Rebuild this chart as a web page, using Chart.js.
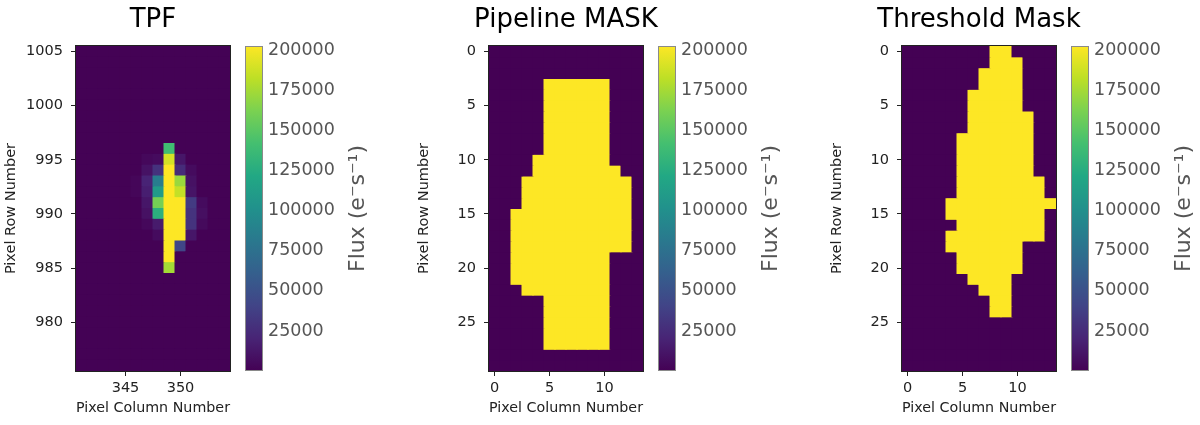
<!DOCTYPE html>
<html>
<head>
<meta charset="utf-8">
<script src="https://cdn.jsdelivr.net/npm/chart.js@4.4.1/dist/chart.umd.min.js"></script>
<style>
  body { margin: 0; background: #fff; }
  #figure { position: relative; width: 1200px; height: 425px; overflow: hidden; }
  #figure canvas { position: absolute; top: 0; }
</style>
</head>
<body>
<div id="figure"></div>
<script>
// ---- data ----
const TPF_COLUMNS = [341, 342, 343, 344, 345, 346, 347, 348, 349, 350, 351, 352, 353, 354];
const TPF_ROWS = [976, 977, 978, 979, 980, 981, 982, 983, 984, 985, 986, 987, 988, 989, 990,
  991, 992, 993, 994, 995, 996, 997, 998, 999, 1000, 1001, 1002, 1003, 1004, 1005];
const TPF_X_TICKS = [345, 350];
const TPF_Y_TICKS = [980, 985, 990, 995, 1000, 1005];

// flux of the background pixels, and of the bright ones: [column, row, flux]
const TPF_BACKGROUND = 500;
const TPF_PIXELS = [
  [346, 993, 3000], [346, 992, 3000],
  [347, 995, 4000], [347, 994, 10000], [347, 993, 20000], [347, 992, 17000],
  [347, 991, 12000], [347, 990, 9000], [347, 989, 4000],
  [348, 995, 6000], [348, 994, 29000], [348, 993, 85000], [348, 992, 110000],
  [348, 991, 160000], [348, 990, 128000], [348, 989, 15000], [348, 988, 6000],
  [349, 996, 140000], [349, 995, 190000], [349, 994, 240000], [349, 993, 240000],
  [349, 992, 240000], [349, 991, 240000], [349, 990, 240000], [349, 989, 240000],
  [349, 988, 240000], [349, 987, 240000], [349, 986, 240000], [349, 985, 175000],
  [350, 995, 12000], [350, 994, 25000], [350, 993, 172000], [350, 992, 185000],
  [350, 991, 240000], [350, 990, 240000], [350, 989, 240000], [350, 988, 240000],
  [350, 987, 42000],
  [351, 994, 6000], [351, 993, 9000], [351, 992, 11000], [351, 991, 35000],
  [351, 990, 30000], [351, 989, 30000], [351, 988, 12000],
  [352, 991, 6000], [352, 990, 8000], [352, 989, 5000],
];

const MASK_COLUMNS = [0, 1, 2, 3, 4, 5, 6, 7, 8, 9, 10, 11, 12, 13];
const MASK_ROWS = [0, 1, 2, 3, 4, 5, 6, 7, 8, 9, 10, 11, 12, 13, 14,
  15, 16, 17, 18, 19, 20, 21, 22, 23, 24, 25, 26, 27, 28, 29];
const MASK_X_TICKS = [0, 5, 10];
const MASK_Y_TICKS = [0, 5, 10, 15, 20, 25];

// mask pixels as [column, first row, last row]
const PIPELINE_MASK = [
  [2, 15, 21], [3, 12, 22], [4, 10, 22], [5, 3, 27], [6, 3, 27], [7, 3, 27],
  [8, 3, 27], [9, 3, 27], [10, 3, 27], [11, 11, 18], [12, 12, 18],
];
const THRESHOLD_MASK = [
  [4, 14, 15], [4, 17, 18], [5, 8, 20], [6, 4, 21], [7, 2, 22], [8, 0, 24],
  [9, 0, 24], [10, 1, 20], [11, 6, 17], [12, 12, 17], [13, 14, 14],
];

const FLUX_MIN = 0;
const FLUX_MAX = 203000;
const CBAR_TICKS = [25000, 50000, 75000, 100000, 125000, 150000, 175000, 200000];
const FLUX_LABEL = "Flux (e\u207Bs\u207B\u00B9)";

// ---- colours ----
const VIRIDIS = ["#440154", "#482475", "#414487", "#355f8d", "#2a788e", "#21918c",
  "#22a884", "#44bf70", "#7ad151", "#bddf26", "#fde725"];

function hexToRgb(h) {
  return [1, 3, 5].map((i) => parseInt(h.slice(i, i + 2), 16));
}

function viridis(t) {
  t = Math.min(1, Math.max(0, t));
  const pos = t * (VIRIDIS.length - 1);
  const i = Math.min(VIRIDIS.length - 2, Math.floor(pos));
  const f = pos - i;
  const a = hexToRgb(VIRIDIS[i]);
  const b = hexToRgb(VIRIDIS[i + 1]);
  const c = a.map((v, k) => Math.round(v + (b[k] - v) * f));
  return `rgb(${c[0]}, ${c[1]}, ${c[2]})`;
}

function fluxToColor(v) {
  return viridis((v - FLUX_MIN) / (FLUX_MAX - FLUX_MIN));
}

function tpfFlux(col, row) {
  const p = TPF_PIXELS.find((q) => q[0] === col && q[1] === row);
  return p ? p[2] : TPF_BACKGROUND;
}

function maskFlux(mask) {
  return (col, row) =>
    mask.some(([c, a, b]) => c === col && row >= a && row <= b) ? FLUX_MAX : FLUX_MIN;
}

// ---- plugins ----
const framePlugin = {
  id: "frame",
  afterDatasetsDraw(chart) {
    const { ctx, chartArea: a } = chart;
    ctx.save();
    ctx.strokeStyle = "#222";
    ctx.lineWidth = 1;
    ctx.strokeRect(a.left - 0.5, a.top - 0.5, a.width + 1, a.height + 1);
    ctx.restore();
  },
};

const fluxLabelPlugin = {
  id: "fluxLabel",
  afterDraw(chart, args, opts) {
    const { ctx, chartArea: a } = chart;
    ctx.save();
    ctx.translate(a.right + opts.offset, (a.top + a.bottom) / 2);
    ctx.rotate(-Math.PI / 2);
    ctx.fillStyle = "#555";
    ctx.font = "22px 'DejaVu Sans', sans-serif";
    ctx.textAlign = "center";
    ctx.textBaseline = "middle";
    ctx.fillText(opts.text, 0, 0);
    ctx.restore();
  },
};

Chart.defaults.font.family = "'DejaVu Sans', sans-serif";

const figure = document.getElementById("figure");

function addCanvas(left, width) {
  const c = document.createElement("canvas");
  c.width = width;
  c.height = 425;
  c.style.left = left + "px";
  figure.appendChild(c);
  return c;
}

function heatmapDatasets(columns, rows, fluxAt) {
  return rows.map((row) => ({
    data: columns.map(() => [row - 0.5, row + 0.5]),
    backgroundColor: columns.map((col) => fluxToColor(fluxAt(col, row))),
    borderWidth: 0,
    grouped: false,
    barPercentage: 1,
    categoryPercentage: 1,
    inflateAmount: 0.5,
  }));
}

// an empty right axis as wide as the left one keeps the title centred over the image
function makeHeatmap(left, title, columns, rows, xTicks, yTicks, reverse, fluxAt) {
  new Chart(addCanvas(left - 76, 306), {
    type: "bar",
    data: { labels: columns, datasets: heatmapDatasets(columns, rows, fluxAt) },
    options: {
      responsive: false,
      animation: false,
      events: [],
      plugins: {
        legend: { display: false },
        tooltip: { enabled: false },
        title: {
          display: true,
          text: title,
          color: "#000",
          font: { size: 26, weight: "normal", lineHeight: "30px" },
          padding: { top: 5, bottom: 11 },
        },
      },
      scales: {
        x: {
          offset: true,
          grid: { offset: false, drawOnChartArea: false, tickLength: 5, color: "#222" },
          border: { display: false },
          ticks: { autoSkip: false, maxRotation: 0, padding: 4, color: "#222", font: { size: 14.5 } },
          title: {
            display: true,
            text: "Pixel Column Number",
            color: "#222",
            font: { size: 14.5 },
            padding: { top: 0, bottom: 8 },
          },
          afterBuildTicks: (s) => {
            s.ticks = xTicks.map((t) => ({ value: columns.indexOf(t) }));
          },
          afterFit: (s) => {
            s.height = 54;
          },
        },
        y: {
          min: rows[0] - 0.5,
          max: rows[rows.length - 1] + 0.5,
          reverse: reverse,
          grid: { drawOnChartArea: false, tickLength: 5, color: "#222" },
          border: { display: false },
          ticks: { padding: 8, color: "#222", font: { size: 14.5 }, callback: (v) => String(v) },
          title: {
            display: true,
            text: "Pixel Row Number",
            color: "#222",
            font: { size: 14.5 },
            padding: { top: 3, bottom: 0 },
          },
          afterBuildTicks: (s) => {
            s.ticks = yTicks.map((v) => ({ value: v }));
          },
          afterFit: (s) => {
            s.width = 76;
          },
        },
        spacer: {
          type: "linear",
          axis: "y",
          position: "right",
          display: true,
          grid: { display: false, drawTicks: false },
          border: { display: false },
          ticks: { display: false },
          afterFit: (s) => {
            s.width = 76;
          },
        },
      },
    },
    plugins: [framePlugin],
  });
}

function colorbarGradient(context) {
  const chart = context.chart;
  if (!chart.chartArea) return VIRIDIS[0];
  const y = chart.scales.y;
  const g = chart.ctx.createLinearGradient(0, y.getPixelForValue(FLUX_MIN), 0, y.getPixelForValue(FLUX_MAX));
  VIRIDIS.forEach((c, i) => g.addColorStop(i / (VIRIDIS.length - 1), c));
  return g;
}

function makeColorbar(left) {
  new Chart(addCanvas(left + 165, 150), {
    type: "bar",
    data: {
      labels: [""],
      datasets: [
        {
          data: [[FLUX_MIN, FLUX_MAX]],
          backgroundColor: colorbarGradient,
          borderColor: "#8a8a8a",
          borderWidth: 1,
          borderSkipped: false,
          barPercentage: 1,
          categoryPercentage: 1,
          inflateAmount: 0,
        },
      ],
    },
    options: {
      responsive: false,
      animation: false,
      events: [],
      layout: { padding: { left: 4, top: 46, bottom: 54, right: 0 } },
      plugins: {
        legend: { display: false },
        tooltip: { enabled: false },
        fluxLabel: { text: FLUX_LABEL, offset: 95.5 },
      },
      scales: {
        x: { display: false },
        y: {
          position: "right",
          min: FLUX_MIN,
          max: FLUX_MAX,
          grid: { display: false, drawTicks: false },
          border: { display: false },
          ticks: { padding: 5, color: "#555", font: { size: 17.5 }, callback: (v) => String(v) },
          afterBuildTicks: (s) => {
            s.ticks = CBAR_TICKS.map((v) => ({ value: v }));
          },
          afterFit: (s) => {
            s.width = 128;
          },
        },
      },
    },
    plugins: [fluxLabelPlugin],
  });
}

const PANEL_LEFTS = [76, 489, 902];

makeHeatmap(PANEL_LEFTS[0], "TPF", TPF_COLUMNS, TPF_ROWS, TPF_X_TICKS, TPF_Y_TICKS, false, tpfFlux);
makeHeatmap(PANEL_LEFTS[1], "Pipeline MASK", MASK_COLUMNS, MASK_ROWS, MASK_X_TICKS, MASK_Y_TICKS, true, maskFlux(PIPELINE_MASK));
makeHeatmap(PANEL_LEFTS[2], "Threshold Mask", MASK_COLUMNS, MASK_ROWS, MASK_X_TICKS, MASK_Y_TICKS, true, maskFlux(THRESHOLD_MASK));
PANEL_LEFTS.forEach(makeColorbar);
</script>
</body>
</html>
